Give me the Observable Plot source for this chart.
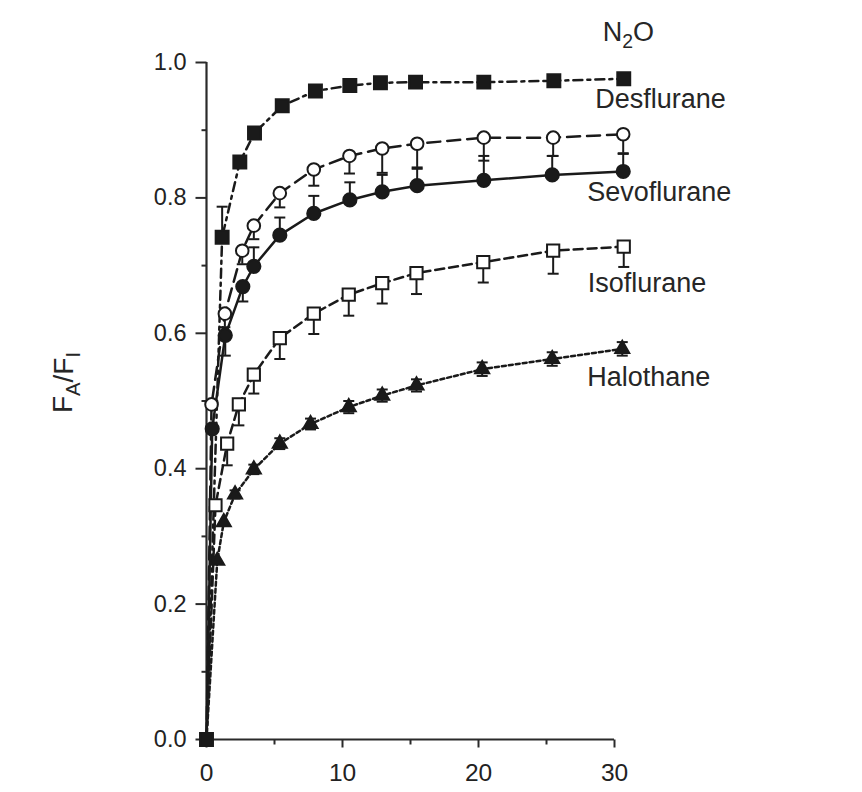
<!DOCTYPE html>
<html>
<head>
<meta charset="utf-8">
<script src="https://cdn.jsdelivr.net/npm/d3@7"></script>
<script src="https://cdn.jsdelivr.net/npm/@observablehq/plot@0.6"></script>
<style>
html,body{margin:0;padding:0;background:#fff;}
#chart svg{display:block;}
</style>
</head>
<body>
<div id="chart"></div>
<script>
// ---------- data (time in minutes, FA/FI ratio) ----------
const seriesNames = ["N2O", "Desflurane", "Sevoflurane", "Isoflurane", "Halothane"];

const n2oTime = [0, 1.15, 2.45, 3.53, 5.57, 8.01, 10.54, 12.79, 15.37, 20.39, 25.54, 30.68];
const n2oRatio = [0, 0.742, 0.853, 0.896, 0.936, 0.958, 0.966, 0.970, 0.971, 0.971, 0.973, 0.976];
const n2oErr = [0, 0.045, 0, 0, 0, 0, 0, 0, 0, 0, 0, 0];

const desTime = [0, 0.37, 1.35, 2.63, 3.48, 5.39, 7.89, 10.51, 12.92, 15.49, 20.39, 25.49, 30.64];
const desRatio = [0, 0.495, 0.629, 0.722, 0.759, 0.807, 0.842, 0.862, 0.873, 0.880, 0.889, 0.889, 0.894];
const desErr = [0, 0, -0.02, -0.02, -0.02, -0.021, -0.024, -0.026, -0.036, -0.035, -0.034, -0.027, -0.028];

const sevoTime = [0, 0.42, 1.38, 2.67, 3.48, 5.39, 7.89, 10.54, 12.92, 15.49, 20.39, 25.42, 30.64];
const sevoRatio = [0, 0.459, 0.597, 0.669, 0.699, 0.745, 0.777, 0.797, 0.809, 0.818, 0.826, 0.834, 0.839];
const sevoErr = [0, 0, -0.03, -0.022, 0.028, 0.026, 0.026, 0.026, 0.025, 0.025, 0.036, 0.028, 0.026];

const isoTime = [0, 0.66, 1.52, 2.38, 3.48, 5.39, 7.89, 10.46, 12.92, 15.44, 20.35, 25.49, 30.68];
const isoRatio = [0, 0.346, 0.437, 0.495, 0.539, 0.593, 0.629, 0.657, 0.674, 0.689, 0.705, 0.722, 0.728];
const isoErr = [0, 0, -0.032, -0.031, -0.028, -0.031, -0.030, -0.031, -0.030, -0.031, -0.030, -0.034, -0.030];

const haloTime = [0, 0.79, 1.27, 2.1, 3.48, 5.39, 7.65, 10.46, 12.92, 15.44, 20.27, 25.42, 30.57];
const haloRatio = [0, 0.264, 0.321, 0.362, 0.399, 0.437, 0.466, 0.491, 0.508, 0.523, 0.547, 0.562, 0.577];
const haloErr = [0, 0, 0, 0.006, 0.007, 0.008, 0.008, 0.009, 0.009, 0.009, 0.01, 0.01, 0.01];

const xTicks = [0, 10, 20, 30];
const xMinorTicks = [5, 15, 25];
const yTicks = [0, 0.2, 0.4, 0.6, 0.8, 1.0];
const yMinorTicks = [0.1, 0.3, 0.5, 0.7, 0.9];
const yTitle = "FA/FI";

// ---------- styles ----------
const ink = "#1a1a1a";
const axisInk = "#2a2a2a";
const styles = {
  "N2O":         {symbol: "square",   fill: ink,    r: 7.3, dash: "9,5,3,5", both: false, dx: -21, dy: -46},
  "Desflurane":  {symbol: "circle",   fill: "#fff", r: 6.3, dash: "13,7",    both: false, dx: -28, dy: -35},
  "Sevoflurane": {symbol: "circle",   fill: ink,    r: 6.6, dash: null,      both: false, dx: -36, dy: 21},
  "Isoflurane":  {symbol: "square",   fill: "#fff", r: 6.9, dash: "9,5",     both: false, dx: -36, dy: 37},
  "Halothane":   {symbol: "triangle", fill: ink,    r: 5.2, dash: "4,3",     both: true,  dx: -35, dy: 28}
};

const raw = {
  "N2O": [n2oTime, n2oRatio, n2oErr],
  "Desflurane": [desTime, desRatio, desErr],
  "Sevoflurane": [sevoTime, sevoRatio, sevoErr],
  "Isoflurane": [isoTime, isoRatio, isoErr],
  "Halothane": [haloTime, haloRatio, haloErr]
};

const rowsOf = name => {
  const [t, v, e] = raw[name];
  return t.map((x, i) => ({series: name, x, y: v[i], err: e[i]}));
};

// custom tick symbols (pixel-length strokes)
const hTick = len => ({draw(ctx) { ctx.moveTo(0, 0); ctx.lineTo(-len, 0); }});
const vTick = len => ({draw(ctx) { ctx.moveTo(0, 0); ctx.lineTo(0, len); }});
const capSym = {draw(ctx) { ctx.moveTo(-5.5, 0); ctx.lineTo(5.5, 0); }};

const marks = [];

// axes
marks.push(Plot.ruleX([0], {x: d => d, stroke: axisInk, strokeWidth: 2.2}));
marks.push(Plot.ruleY([0], {y: d => d, stroke: axisInk, strokeWidth: 2.2}));
marks.push(Plot.dot(yTicks, {x: () => 0, y: d => d, symbol: hTick(11), stroke: axisInk, strokeWidth: 2, fill: "none"}));
marks.push(Plot.dot(yMinorTicks, {x: () => 0, y: d => d, symbol: hTick(5), stroke: axisInk, strokeWidth: 2, fill: "none"}));
marks.push(Plot.text(yTicks, {x: () => 0, y: d => d, text: d => d.toFixed(1), textAnchor: "end", lineAnchor: "middle", dx: -20, fontSize: 23.5, fill: "#222"}));
marks.push(Plot.dot(xTicks, {x: d => d, y: () => 0, symbol: vTick(8), stroke: axisInk, strokeWidth: 2, fill: "none"}));
marks.push(Plot.dot(xMinorTicks, {x: d => d, y: () => 0, symbol: vTick(5), stroke: axisInk, strokeWidth: 2, fill: "none"}));
marks.push(Plot.text(xTicks, {x: d => d, y: () => 0, text: d => String(d), textAnchor: "middle", lineAnchor: "top", dy: 24, fontSize: 24.5, fill: "#222"}));

// lines
for (const name of seriesNames) {
  const s = styles[name];
  const opts = {x: "x", y: "y", stroke: ink, strokeWidth: 2.5};
  if (s.dash) opts.strokeDasharray = s.dash;
  marks.push(Plot.line(rowsOf(name), opts));
}
// error bars
for (const name of seriesNames) {
  const s = styles[name];
  const rows = rowsOf(name).filter(d => d.err !== 0);
  const lo = d => s.both ? d.y - Math.abs(d.err) : d.y;
  const hi = d => s.both ? d.y + Math.abs(d.err) : d.y + d.err;
  marks.push(Plot.ruleX(rows, {x: "x", y1: lo, y2: hi, stroke: ink, strokeWidth: 2}));
  marks.push(Plot.dot(rows, {x: "x", y: hi, symbol: capSym, stroke: ink, strokeWidth: 2, fill: "none"}));
  if (s.both) marks.push(Plot.dot(rows, {x: "x", y: lo, symbol: capSym, stroke: ink, strokeWidth: 2, fill: "none"}));
}
// markers (N2O last so its origin marker sits on top)
for (const name of [...seriesNames].reverse()) {
  const s = styles[name];
  const rows = rowsOf(name).filter(d => name === "N2O" || d.x > 0);
  marks.push(Plot.dot(rows, {x: "x", y: "y", symbol: s.symbol, r: s.r, fill: s.fill, stroke: ink, strokeWidth: 2}));
}
// series labels, placed relative to each series' last point
for (const name of seriesNames) {
  const s = styles[name];
  const last = rowsOf(name).slice(-1);
  marks.push(Plot.text(last, {x: "x", y: "y", text: d => d.series, textAnchor: "start", lineAnchor: "middle",
    dx: s.dx, dy: s.dy, fontSize: 27, fill: "#262626"}));
}
// y title
marks.push(Plot.text([yTitle], {frameAnchor: "left", rotate: -90, dx: -143, dy: 12, fontSize: 28, fill: "#262626"}));

const chart = Plot.plot({
  width: 862,
  height: 792,
  marginLeft: 206,
  marginRight: 248,
  marginTop: 62,
  marginBottom: 53,
  x: {domain: [0, 30], axis: null},
  y: {domain: [0, 1], axis: null},
  style: {fontFamily: "'Liberation Sans', Arial, Helvetica, sans-serif", background: "#fff", color: "#222"},
  marks
});

// subscripts for chemical formula and axis title
function subscriptify(svg, plain, parts) {
  d3.select(svg).selectAll("text")
    .filter(function() { return this.textContent === plain; })
    .each(function() {
      const t = d3.select(this);
      t.text("");
      let inSub = false;
      for (const [str, isSub] of parts) {
        const ts = t.append("tspan").text(str);
        if (isSub) ts.attr("font-size", "72%");
        if (isSub && !inSub) ts.attr("dy", "0.35em");
        if (!isSub && inSub) ts.attr("dy", "-0.25em");
        inSub = isSub;
      }
    });
}
subscriptify(chart, "N2O", [["N", false], ["2", true], ["O", false]]);
subscriptify(chart, yTitle, [["F", false], ["A", true], ["/F", false], ["I", true]]);

document.getElementById("chart").appendChild(chart);
</script>
</body>
</html>
